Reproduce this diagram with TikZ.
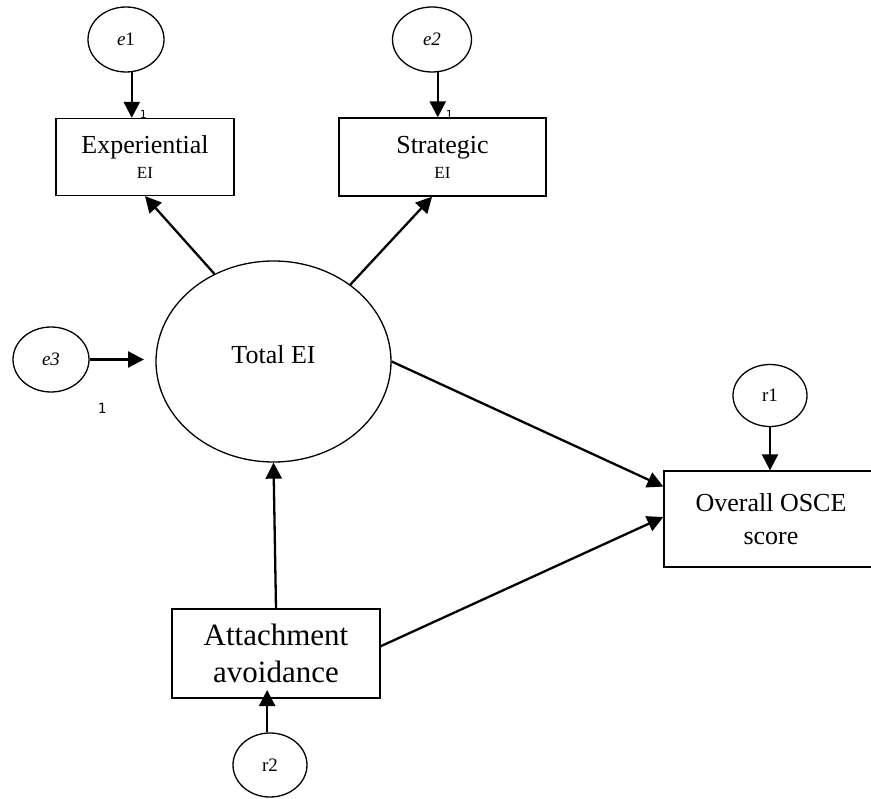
\documentclass[tikz,border=0pt]{standalone}
\usepackage{fontspec}
\setmainfont{Liberation Serif}
\newfontfamily\monofont{DejaVu Sans Mono}
\usetikzlibrary{shapes.geometric,arrows.meta,calc}

\tikzset{
  latent/.style={ellipse, draw, line width=1.3pt, inner sep=0pt},
  observed/.style={rectangle, draw, line width=1.3pt, inner sep=0pt, align=center},
  arr/.style={line width=2.3pt, -{Triangle[length=16pt,width=16pt]}},
  labeltext/.style={font=\fontsize{26}{25}\selectfont},
  errtext/.style={font=\fontsize{19}{19}\selectfont},
  onelabel/.style={font=\monofont\fontsize{14}{14}\selectfont, inner sep=0pt},
  smallone/.style={font=\monofont\fontsize{11}{11}\selectfont, inner sep=0pt},
}

\begin{document}
\begin{tikzpicture}[x=1pt, y=-1pt]
  \useasboundingbox (0,0) rectangle (871,799);

  % error terms and residuals
  \node[latent, errtext, minimum width=76pt, minimum height=65pt] (e1) at (126,39.5) {\itshape e\upshape 1};
  \node[latent, errtext, minimum width=79pt, minimum height=65pt] (e2) at (432,39.5) {\itshape e2};
  \node[latent, errtext, minimum width=76pt, minimum height=65pt] (e3) at (51,359.5) {\itshape e3};
  \node[latent, errtext, minimum width=74pt, minimum height=62pt] (r1) at (770,395.5) {r1};
  \node[latent, errtext, minimum width=74pt, minimum height=64pt] (r2) at (270,765) {r2};

  % latent factor
  \node[latent, labeltext, minimum width=235pt, minimum height=201pt] (tot) at (273.5,361.5) {\raisebox{15pt}{Total EI}};

  % observed variables
  \node[observed, labeltext, minimum width=178pt, minimum height=77pt] (exp) at (145,157)
    {Experiential\\{\fontsize{17}{17}\selectfont EI}};
  \node[observed, labeltext, minimum width=207pt, minimum height=78pt] (str) at (442.5,157)
    {Strategic\\{\fontsize{17}{17}\selectfont EI}};
  \node[observed, labeltext, minimum width=214pt, minimum height=96pt] (osce) at (771,519)
    {\raisebox{2pt}{Overall OSCE}\\[6pt]score};
  \node[observed, font=\fontsize{31}{37}\selectfont, minimum width=208pt, minimum height=89pt] (att) at (276,653.5)
    {Attachment\\avoidance};

  % free ends of short arrows
  \coordinate (e3tip) at (144,358);
  \coordinate (r2tip) at (267,690);

  % loadings and paths
  \draw[arr] (e1.-80) -- (e1.-80 |- exp.north);
  \draw[arr] (e2.-80) -- (e2.-80 |- str.north);
  \draw[arr] (e3.east) -- (e3.east -| e3tip);
  \draw[arr] (r1.south) -- (r1.south |- osce.north);
  \draw[arr] (r2.95) -- (r2.95 |- r2tip);

  \draw[arr] (tot.124) -- (exp.south);
  \draw[arr] (tot.45) -- ($(str.south west)!0.45!(str.south east)$);
  \draw[arr] (tot.east) -- ($(osce.north west)!0.167!(osce.south west)$);
  \draw[arr] ($(att.north east)!0.42!(att.south east)$) -- ($(osce.north west)!0.48!(osce.south west)$);
  \draw[arr] (att.north) -- (tot.south);

  % fixed-parameter labels
  \node[smallone, anchor=south west] (one1) at ($(e1.-80 |- exp.north)+(8,1)$) {1};
  \node[smallone, anchor=south west] (one2) at ($(e2.-80 |- str.north)+(8,1)$) {1};
  \node[onelabel] (one3) at (102,408) {1};
\end{tikzpicture}
\end{document}
